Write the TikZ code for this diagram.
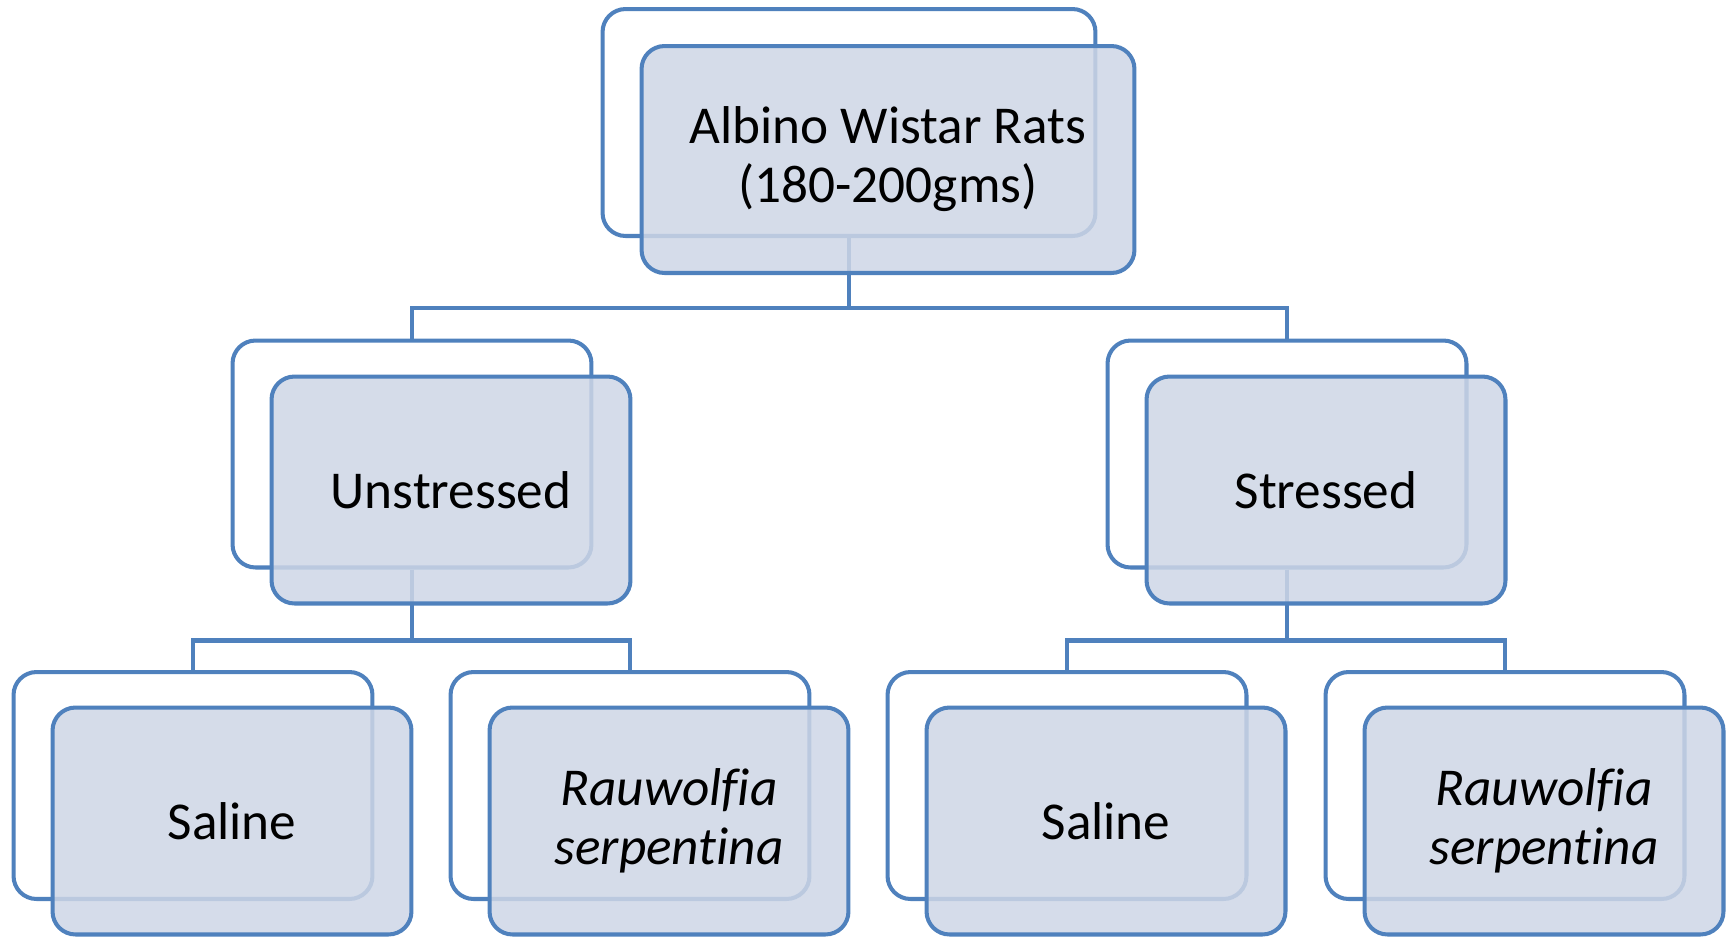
\documentclass[tikz,border=0pt]{standalone}
\usepackage{fontspec}
\setmainfont{Carlito}[Ligatures=NoCommon]
\usetikzlibrary{positioning}
\definecolor{boxline}{RGB}{79,129,189}
\definecolor{boxfill}{RGB}{206,214,230}
\tikzset{
  back/.style={draw=boxline, line width=2.3pt, rounded corners=0.46cm, fill=white,
    minimum width=7.18cm, minimum height=4.54cm},
  front/.style={back, fill=boxfill, fill opacity=0.85, text opacity=1, align=center,
    font=\fontsize{30.3}{33.6}\selectfont},
  wide/.style={minimum width=9.86cm},
  link/.style={draw=boxline, line width=2.3pt}
}
\begin{document}
\begin{tikzpicture}[x=0.02cm, y=-0.02cm]
			\useasboundingbox (0,0) rectangle (1734,937);

			% back boxes
			\node[back, wide] (A0) at (849,122.5) {};
			\node[back] (B10) at (412,454) {};
			\node[back] (B20) at (1287,454) {};
			\node[back] (C10) at (193,785.5) {};
			\node[back] (C20) at (630,785.5) {};
			\node[back] (C30) at (1067,785.5) {};
			\node[back] (C40) at (1505,785.5) {};

			\draw[link] (A0.south) -- ++(0,70) -| (B10.north);
			\draw[link] (A0.south) -- ++(0,70) -| (B20.north);
			\draw[link] (B10.south) -- ++(0,71) -| (C10.north);
			\draw[link] (B10.south) -- ++(0,71) -| (C20.north);
			\draw[link] (B20.south) -- ++(0,71) -| (C30.north);
			\draw[link] (B20.south) -- ++(0,71) -| (C40.north);

			% front boxes
			\node[front, wide] (A) at (888,159.5) {Albino Wistar Rats\\(180-200gms)};
			\node[front] (B1) at (451,490) {Unstressed};
			\node[front] (B2) at (1326,490) {Stressed};
			\node[front] (C1) at (232,821) {Saline};
			\node[front] (C2) at (669,821) {\itshape Rauwolfia\\\itshape serpentina};
			\node[front] (C3) at (1106,821) {Saline};
			\node[front] (C4) at (1544,821) {\itshape Rauwolfia\\\itshape serpentina};

\end{tikzpicture}
\end{document}
